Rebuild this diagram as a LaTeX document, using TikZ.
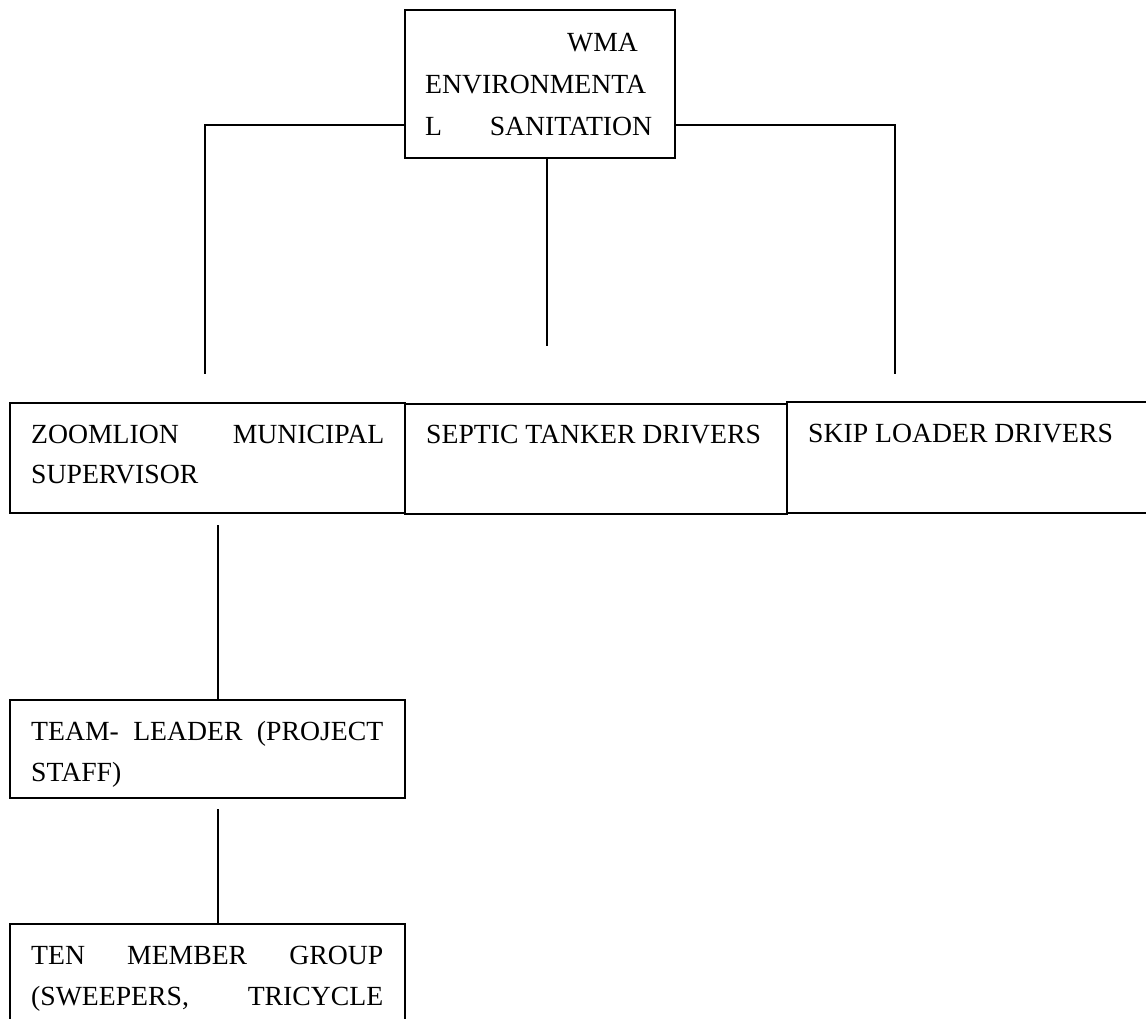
\documentclass[tikz,border=0pt]{standalone}
\usepackage{fontspec}
\setmainfont{Liberation Serif}
\begin{document}
\begin{tikzpicture}[x=1pt,y=-1pt,
  box/.style={draw,line width=1.8pt,rectangle,anchor=north west,inner sep=0pt},
  conn/.style={line width=1.8pt},
  txt/.style={anchor=base west,inner sep=0pt,font=\fontsize{27.7}{41.5}\selectfont}]
\useasboundingbox (0,0) rectangle (1146,1018);
% boxes
\node[box,minimum width=270pt,minimum height=148pt] (top) at (404,9) {};
\node[box,minimum width=395pt,minimum height=110pt] (zoom) at (9,402) {};
\node[box,minimum width=382pt,minimum height=110pt] (septic) at (404,403) {};
\node[box,minimum width=380pt,minimum height=111pt] (skip) at (786,401) {};
\node[box,minimum width=395pt,minimum height=98pt] (team) at (9,699) {};
\node[box,minimum width=395pt,minimum height=130pt] (ten) at (9,923) {};
% texts
\node[txt] (t1) at (567,51) {WMA};
\node[txt] (t2) at (425,93) {ENVIRONMENTA};
\node[txt] (t3) at (425,135) {\makebox[227pt][s]{L SANITATION}};
\node[txt] (z1) at (31,443) {\makebox[353pt][s]{ZOOMLION MUNICIPAL}};
\node[txt] (z2) at (31,483) {SUPERVISOR};
\node[txt] (s1) at (426,443) {SEPTIC TANKER DRIVERS};
\node[txt] (k1) at (808,442) {SKIP LOADER DRIVERS};
\node[txt] (m1) at (31,740) {\makebox[352pt][s]{TEAM- LEADER (PROJECT}};
\node[txt] (m2) at (31,781) {STAFF)};
\node[txt] (n1) at (31,964) {\makebox[352pt][s]{TEN MEMBER GROUP}};
\node[txt] (n2) at (31,1005) {\makebox[352pt][s]{(SWEEPERS, TRICYCLE}};
% connector ends
\coordinate (lend) at (205,374);
\coordinate (rend) at (895,374);
\coordinate (cend) at (547,346);
\coordinate (c1) at (218,525);
\coordinate (c2) at (218,809);
% connectors
\draw[conn] (top.west) ++(0,41) -| (lend);
\draw[conn] (top.east) ++(0,41) -| (rend);
\draw[conn] (top.south -| cend) -- (cend);
\draw[conn] (c1) -- (team.north -| c1);
\draw[conn] (c2) -- (ten.north -| c2);
\end{tikzpicture}
\end{document}
